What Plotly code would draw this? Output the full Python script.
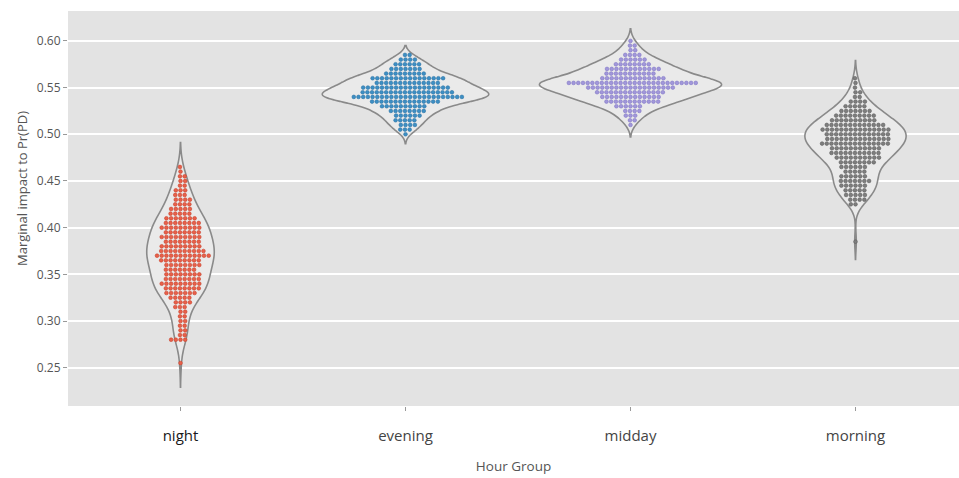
import numpy as np
import plotly.graph_objects as go

# ---- data: marginal impact values per hour group (value level -> count) ----
groups = ["night", "evening", "midday", "morning"]

night_levels = [0.465, 0.460, 0.455, 0.450, 0.445, 0.440, 0.435, 0.430, 0.425, 0.420,
                0.415, 0.410, 0.405, 0.400, 0.395, 0.390, 0.385, 0.380, 0.375, 0.370,
                0.365, 0.360, 0.355, 0.350, 0.345, 0.340, 0.335, 0.330, 0.325, 0.320,
                0.315, 0.310, 0.305, 0.300, 0.295, 0.290, 0.285, 0.280, 0.255]
night_counts = [1, 1, 2, 2, 2, 3, 3, 4, 4, 5,
                5, 7, 8, 9, 8, 9, 8, 9, 10, 12,
                9, 8, 7, 8, 8, 9, 8, 7, 5, 4,
                3, 2, 2, 2, 2, 2, 2, 4, 1]

evening_levels = [0.585, 0.580, 0.575, 0.570, 0.565, 0.560, 0.555, 0.550, 0.545,
                  0.540, 0.535, 0.530, 0.525, 0.520, 0.515, 0.510, 0.505, 0.500]
evening_counts = [2, 4, 6, 7, 9, 16, 14, 19, 20,
                  24, 15, 10, 8, 6, 5, 4, 3, 1]

midday_levels = [0.600, 0.595, 0.590, 0.585, 0.580, 0.575, 0.570, 0.565, 0.560, 0.555,
                 0.550, 0.545, 0.540, 0.535, 0.530, 0.525, 0.520, 0.515, 0.510]
midday_counts = [1, 2, 2, 4, 6, 8, 12, 11, 14, 28,
                 19, 15, 13, 12, 6, 4, 3, 2, 1]

morning_levels = [0.560, 0.555, 0.550, 0.545, 0.540, 0.535, 0.530, 0.525, 0.520, 0.515,
                  0.510, 0.505, 0.500, 0.495, 0.490, 0.485, 0.480, 0.475, 0.470, 0.465,
                  0.460, 0.455, 0.450, 0.445, 0.440, 0.435, 0.430, 0.425, 0.385]
morning_counts = [1, 1, 1, 2, 2, 4, 5, 7, 9, 10,
                  13, 15, 14, 14, 15, 11, 11, 10, 8, 6,
                  5, 6, 7, 6, 5, 5, 4, 2, 1]

yticks = [0.25, 0.30, 0.35, 0.40, 0.45, 0.50, 0.55, 0.60]
ytick_text = ["0.25", "0.30", "0.35", "0.40", "0.45", "0.50", "0.55", "0.60"]

# ---- styling ----
colors = ["#E8604A", "#3D8FC4", "#A197DA", "#7E7E7E"]
edge_colors = ["#c9432e", "#2b74a6", "#8378c6", "#5f5f5f"]
violin_widths = [0.30, 0.74, 0.81, 0.45]
bandwidths = [0.013, 0.005, 0.0065, 0.0095]

W, H = 959, 478
margin = dict(l=68, r=0, t=11, b=72)
x_range = [-0.5, 3.46]
y_range = [0.209, 0.632]

plot_w = W - margin["l"] - margin["r"]
plot_h = H - margin["t"] - margin["b"]
px_per_x = plot_w / (x_range[1] - x_range[0])
px_per_y = plot_h / (y_range[1] - y_range[0])

dot = 4.7  # spacing used to lay out the swarm (px)


def swarm(values):
    """Beeswarm offsets (in pixels) so dots spaced `dot` apart don't overlap."""
    ys = np.asarray(values) * px_per_y
    order = np.argsort(ys, kind="stable")
    placed_y, placed_x = [], []
    out = np.zeros(len(ys))
    for i in order:
        y = ys[i]
        near = [(py, px) for py, px in zip(placed_y, placed_x) if abs(py - y) < dot]
        cands = [0.0]
        for py, px in near:
            dx = np.sqrt(dot ** 2 - (py - y) ** 2)
            cands += [px + dx, px - dx]
        cands.sort(key=lambda c: (abs(c), c))
        chosen = cands[-1]
        for c in cands:
            if all((c - px) ** 2 + (y - py) ** 2 >= dot ** 2 - 1e-6 for py, px in near):
                chosen = c
                break
        placed_y.append(y)
        placed_x.append(chosen)
        out[i] = chosen
    return out


data = [
    np.repeat(night_levels, night_counts),
    np.repeat(evening_levels, evening_counts),
    np.repeat(midday_levels, midday_counts),
    np.repeat(morning_levels, morning_counts),
]

fig = go.Figure()

for k, vals in enumerate(data):
    fig.add_trace(go.Violin(
        x=np.full(len(vals), float(k)), y=vals,
        width=violin_widths[k], bandwidth=bandwidths[k], spanmode="soft",
        points=False, box_visible=False, meanline_visible=False,
        line=dict(color="#8a8a8a", width=1.6), fillcolor="#eaeaea",
        hoverinfo="skip", showlegend=False, name=groups[k],
    ))

for k, vals in enumerate(data):
    offs = swarm(vals) / px_per_x
    fig.add_trace(go.Scatter(
        x=k + offs, y=vals, mode="markers",
        marker=dict(size=3.7, color=colors[k], line=dict(color=edge_colors[k], width=0.6)),
        showlegend=False, name=groups[k],
    ))

tick_labels = ["<span style='color:#1a1a1a'>night</span>", "evening", "midday", "morning"]

# y-axis title sits a little above the plot's vertical centre
y_title_px = 189
fig.add_annotation(
    text="Marginal impact to Pr(PD)", textangle=-90,
    xref="paper", yref="paper",
    x=(22 - margin["l"]) / plot_w, y=(H - margin["b"] - y_title_px) / plot_h,
    xanchor="center", yanchor="middle", showarrow=False,
    font=dict(size=13, color="#555555"),
)

fig.update_layout(
    width=W, height=H, margin=margin,
    paper_bgcolor="white", plot_bgcolor="#e3e3e3",
    violinmode="overlay",
    font=dict(family="Open Sans, Noto Sans, sans-serif", color="#555555"),
    xaxis=dict(
        range=x_range, tickvals=[0, 1, 2, 3], ticktext=tick_labels,
        showgrid=False, zeroline=False, ticks="outside", ticklen=4, tickcolor="#999999",
        ticklabelstandoff=12,
        tickfont=dict(size=15, color="#444444"),
        title=dict(text="Hour Group", font=dict(size=13.5, color="#555555"), standoff=17),
    ),
    yaxis=dict(
        range=y_range, tickvals=yticks, ticktext=ytick_text,
        showgrid=True, gridcolor="white", gridwidth=1.5, zeroline=False,
        ticks="outside", ticklen=4, tickcolor="#999999",
        tickfont=dict(size=12, color="#555555"),
    ),
)

fig.write_html("out.html")
